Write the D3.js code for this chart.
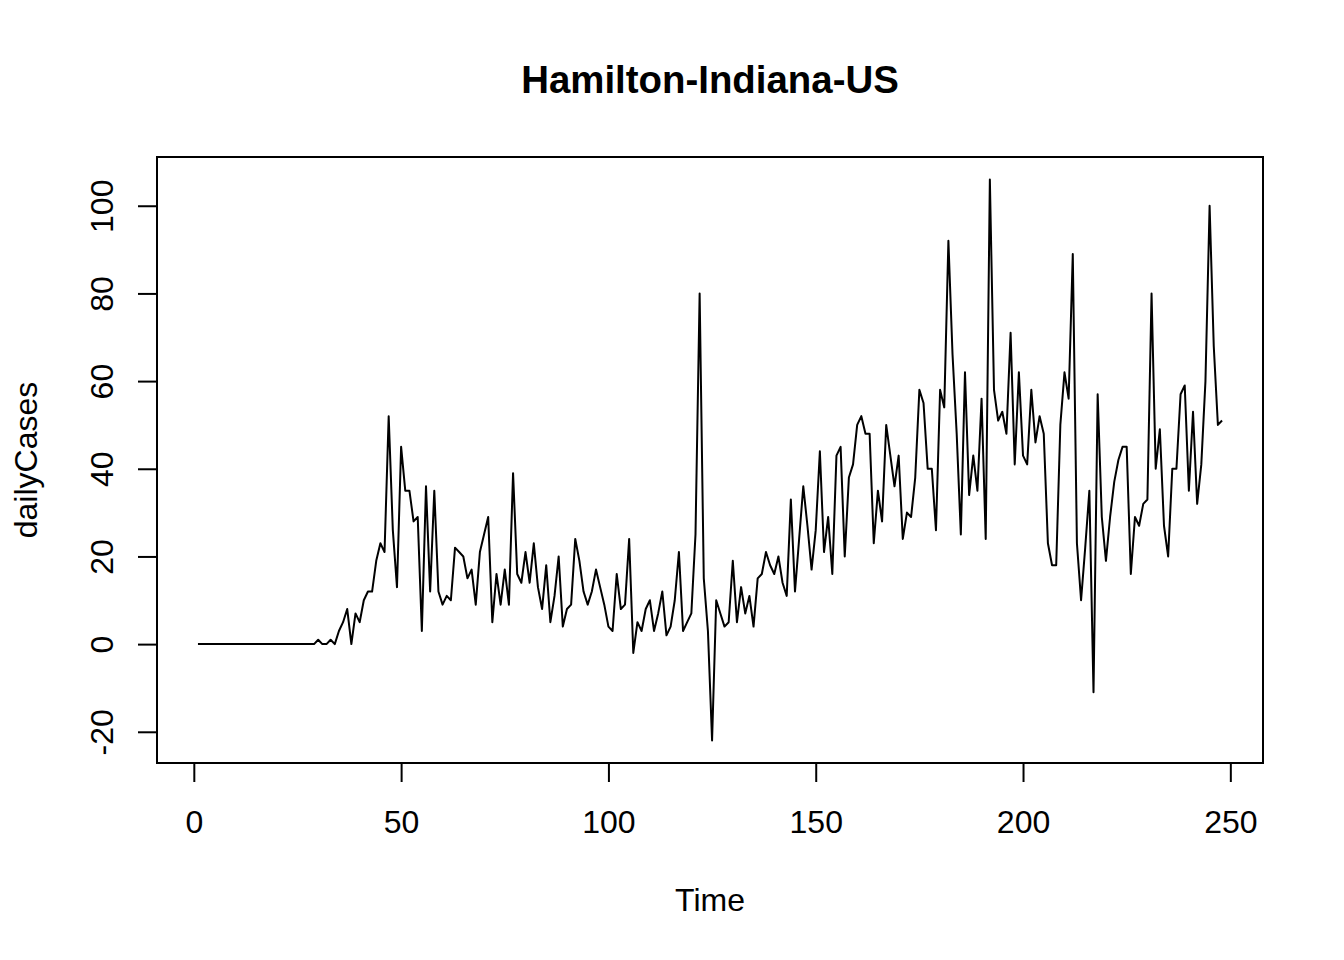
<!DOCTYPE html>
<html>
<head>
<meta charset="utf-8">
<script src="https://cdn.jsdelivr.net/npm/d3@7"></script>
<style>
  html, body { margin: 0; padding: 0; background: #fff; }
  svg { display: block; font-family: "Liberation Sans", Arial, sans-serif; }
</style>
</head>
<body>
<svg id="chart" width="1344" height="960"></svg>
<script>
const chartTitle = "Hamilton-Indiana-US";
const xLabel = "Time";
const yLabel = "dailyCases";
const startTime = 1;
const dailyCases = [
  0,0,0,0,0,0,0,0,0,0, 0,0,0,0,0,0,0,0,0,0, 0,0,0,0,0,0,0,0,0,
  1,0,0,1,0,3,5,8,0,7, 5,10,12,12,19,23,21,52,26,13,
  45,35,35,28,29,3,36,12,35,12, 9,11,10,22,21,20,15,17,9,21,
  25,29,5,16,9,17,9,39,16,14, 21,14,23,13,8,18,5,11,20,4,
  8,9,24,19,12,9,12,17,13,9, 4,3,16,8,9,24,-2,5,3,8,
  10,3,7,12,2,4,10,21,3,5, 7,25,80,15,3,-22,10,7,4,5,
  19,5,13,7,11,4,15,16,21,18, 16,20,14,11,33,12,24,36,27,17,
  26,44,21,29,16,43,45,20,38,41, 50,52,48,48,23,35,28,50,43,36,
  43,24,30,29,38,58,55,40,40,26, 58,54,92,66,48,25,62,34,43,35,
  56,24,106,58,51,53,48,71,41,62, 43,41,58,46,52,48,23,18,18,50,
  62,56,89,23,10,22,35,-11,57,29, 19,29,37,42,45,45,16,29,27,32,
  33,80,40,49,27,20,40,40,57,59, 35,53,32,41,60,100,68,50,51
];
const xTicks = [0, 50, 100, 150, 200, 250];
const yTicks = [-20, 0, 20, 40, 60, 80, 100];

const series = dailyCases.map((v, i) => ({ t: startTime + i, v: v }));

const plot = { left: 157, right: 1263, top: 157, bottom: 763 };
const svg = d3.select("#chart");

// R-style 4% axis extension
const tExt = d3.extent(series, d => d.t);
const vExt = d3.extent(series, d => d.v);
const tPad = (tExt[1] - tExt[0]) * 0.04;
const vPad = (vExt[1] - vExt[0]) * 0.04;

const x = d3.scaleLinear().domain([tExt[0] - tPad, tExt[1] + tPad]).range([plot.left, plot.right]);
const y = d3.scaleLinear().domain([vExt[0] - vPad, vExt[1] + vPad]).range([plot.bottom, plot.top]);

// data line
const line = d3.line().x(d => x(d.t)).y(d => y(d.v));
svg.append("path")
  .datum(series)
  .attr("d", line)
  .attr("fill", "none")
  .attr("stroke", "#000")
  .attr("stroke-width", 2)
  .attr("stroke-linejoin", "round");

// box
svg.append("rect")
  .attr("x", plot.left).attr("y", plot.top)
  .attr("width", plot.right - plot.left).attr("height", plot.bottom - plot.top)
  .attr("fill", "none").attr("stroke", "#000").attr("stroke-width", 2);

const fmt = d => String(d);

// x axis
const xAxis = d3.axisBottom(x).tickValues(xTicks).tickSize(19).tickPadding(28).tickFormat(fmt);
const gx = svg.append("g").attr("transform", `translate(0,${plot.bottom})`).call(xAxis);
gx.select(".domain").attr("d", `M${x(xTicks[0])},0H${x(xTicks[xTicks.length - 1])}`).attr("stroke-width", 2);
gx.selectAll(".tick line").attr("stroke-width", 2);
gx.selectAll(".tick text").attr("font-size", 32).attr("font-family", "Liberation Sans, Arial, sans-serif").attr("fill", "#000");

// y axis
const yAxis = d3.axisLeft(y).tickValues(yTicks).tickSize(19).tickFormat(fmt);
const gy = svg.append("g").attr("transform", `translate(${plot.left},0)`).call(yAxis);
gy.select(".domain").attr("d", `M0,${y(yTicks[0])}V${y(yTicks[yTicks.length - 1])}`).attr("stroke-width", 2);
gy.selectAll(".tick line").attr("stroke-width", 2);
gy.selectAll(".tick text")
  .attr("font-size", 32)
  .attr("font-family", "Liberation Sans, Arial, sans-serif")
  .attr("fill", "#000")
  .attr("x", null).attr("dy", null)
  .attr("text-anchor", "middle")
  .attr("transform", "translate(-44,0) rotate(-90)");

// title
svg.append("text")
  .attr("x", (plot.left + plot.right) / 2).attr("y", 93)
  .attr("text-anchor", "middle")
  .attr("font-size", 38.4).attr("font-weight", "bold")
  .text(chartTitle);

// x label
svg.append("text")
  .attr("x", (plot.left + plot.right) / 2).attr("y", 911)
  .attr("text-anchor", "middle")
  .attr("font-size", 32)
  .text(xLabel);

// y label
svg.append("text")
  .attr("transform", `translate(37,${(plot.top + plot.bottom) / 2}) rotate(-90)`)
  .attr("text-anchor", "middle")
  .attr("font-size", 32)
  .text(yLabel);
</script>
</body>
</html>
